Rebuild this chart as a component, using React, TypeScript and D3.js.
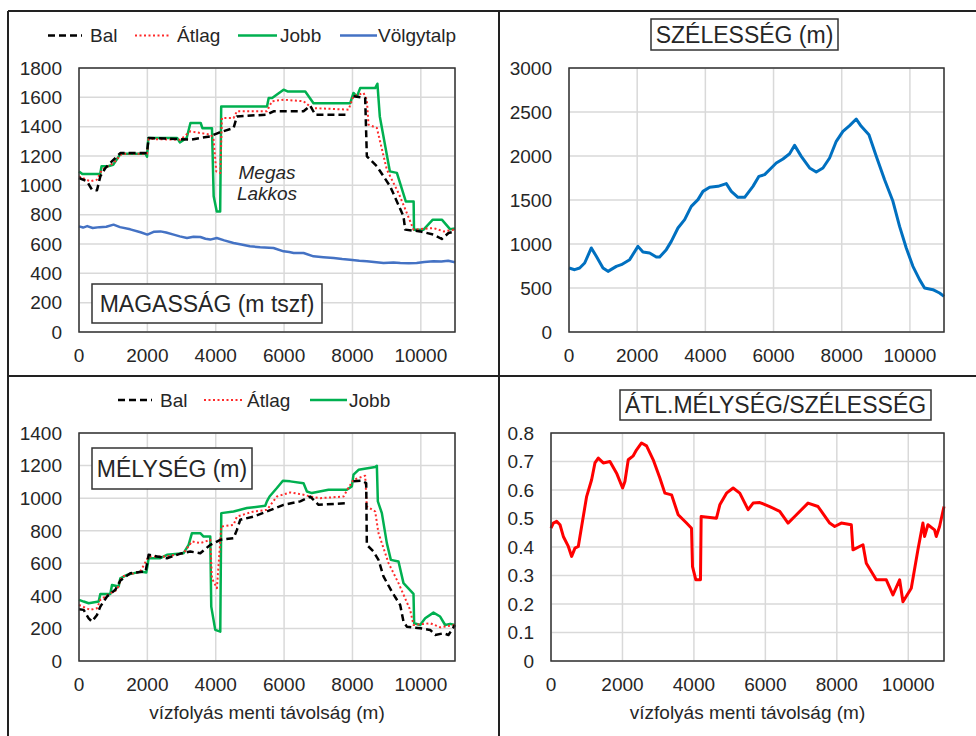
import React from "react";
import * as d3 from "d3";

type Pt = [number, number];

// ---------- DATA ----------
const xTicks = [0, 2000, 4000, 6000, 8000, 10000];

const elevBal: Pt[] = [
  [0, 1050], [234, 1027], [380, 970], [526, 966], [624, 1061], [770, 1118], [1014, 1175], [1209, 1220],
  [1988, 1220], [2037, 1323], [2500, 1320], [3255, 1311], [3840, 1334], [4100, 1360], [4522, 1391], [4620, 1470],
  [5497, 1482], [5692, 1505], [6569, 1505], [6764, 1543], [6910, 1482], [7836, 1482], [NaN, NaN], [8031, 1607],
  [8372, 1595], [8421, 1198], [8714, 1130], [9103, 993], [9493, 789], [9542, 698], [9981, 686], [10370, 664],
  [10614, 634], [10809, 675], [11000, 686],
];
const elevAtlag: Pt[] = [
  [0, 1061], [331, 1027], [526, 1039], [673, 1107], [1014, 1152], [1257, 1216], [1988, 1216], [2037, 1316],
  [2963, 1311], [3255, 1368], [3548, 1357], [3860, 1345], [3938, 1311], [4016, 1095], [4133, 1084], [4181, 1459],
  [4522, 1459], [4620, 1505], [5497, 1505], [5643, 1573], [5984, 1584], [6569, 1573], [6813, 1527], [7885, 1516],
  [8031, 1607], [8324, 1630], [8421, 1584], [8470, 1414], [8714, 1391], [9006, 1107], [9347, 948], [9591, 811],
  [9786, 698], [10370, 709], [10663, 686], [11000, 698],
];
const elevJobb: Pt[] = [
  [0, 1095], [100, 1077], [620, 1077], [660, 1130], [850, 1130], [1000, 1140], [1220, 1216], [1950, 1216],
  [1990, 1195], [2030, 1323], [2870, 1323], [2950, 1293], [3150, 1323], [3260, 1425], [3560, 1425], [3610, 1390],
  [3890, 1390], [3940, 925], [4030, 822], [4130, 822], [4160, 1538], [5500, 1538], [5550, 1595], [5650, 1595],
  [5985, 1652], [6100, 1640], [6620, 1640], [6860, 1560], [7935, 1560], [8030, 1630], [8130, 1605], [8225, 1663],
  [8665, 1663], [8730, 1693], [8800, 1470], [9095, 1095], [9300, 1085], [9560, 890], [9790, 890], [9800, 698],
  [10080, 698], [10350, 766], [10615, 766], [10860, 700], [11000, 705],
];
const elevVolgy: Pt[] = [
  [0, 720], [120, 712], [240, 722], [400, 709], [600, 715], [800, 718], [1010, 732], [1200, 715], [1500, 700],
  [1800, 680], [2000, 664], [2200, 684], [2380, 686], [2550, 678], [2770, 664], [2950, 652], [3160, 641],
  [3350, 650], [3550, 648], [3700, 636], [3840, 630], [4030, 641], [4250, 625], [4520, 607], [4750, 596],
  [5000, 584], [5300, 578], [5690, 573], [5985, 550], [6150, 545], [6280, 539], [6570, 539], [6860, 516],
  [7150, 510], [7450, 505], [7700, 498], [7930, 493], [8200, 486], [8420, 482], [8700, 475], [8910, 470],
  [9200, 474], [9400, 470], [9650, 468], [9880, 470], [10100, 478], [10370, 482], [10600, 480], [10800, 486],
  [11000, 476],
];

const widthData: Pt[] = [
  [0, 727], [166, 708], [313, 727], [460, 784], [655, 955], [801, 860], [997, 727], [1144, 689], [1388, 746],
  [1535, 765], [1779, 822], [2023, 973], [2170, 909], [2365, 898], [2561, 852], [2659, 852], [2854, 936],
  [3001, 1030], [3196, 1182], [3392, 1277], [3587, 1428], [3783, 1504], [3930, 1598], [4125, 1644], [4370, 1655],
  [4614, 1686], [4761, 1598], [4956, 1530], [5152, 1530], [5396, 1655], [5572, 1769], [5738, 1788], [5934, 1864],
  [6080, 1920], [6276, 1966], [6471, 2026], [6618, 2121], [6813, 1996], [7058, 1864], [7253, 1818], [7449, 1864],
  [7644, 1977], [7840, 2167], [8035, 2280], [8231, 2345], [8426, 2420], [8573, 2337], [8798, 2242], [9013, 1996],
  [9257, 1731], [9502, 1485], [9697, 1200], [9893, 955], [10088, 746], [10283, 595], [10430, 500], [10675, 481],
  [10870, 443], [11000, 405],
];

const depthBal: Pt[] = [
  [0, 318], [136, 314], [283, 262], [380, 242], [526, 283], [624, 334], [819, 396], [1062, 437], [1209, 494],
  [1501, 539], [1949, 549], [2037, 652], [2281, 642], [2573, 631], [3012, 662], [3255, 672], [3548, 662],
  [3840, 713], [4133, 744], [4522, 754], [4620, 805], [4717, 867], [5107, 887], [5497, 918], [5984, 959],
  [6471, 980], [6764, 1010], [7008, 959], [7787, 969], [NaN, NaN], [8031, 1103], [8275, 1107], [8402, 1092],
  [8421, 713], [8616, 672], [8762, 621], [8908, 519], [9152, 426], [9396, 344], [9493, 242], [9591, 211],
  [9981, 201], [10273, 191], [10419, 160], [10663, 170], [10809, 160], [11000, 221],
];
const depthAtlag: Pt[] = [
  [0, 344], [331, 314], [526, 324], [624, 375], [916, 416], [1111, 437], [1257, 519], [1793, 549], [2037, 642],
  [2573, 642], [3060, 662], [3304, 734], [3548, 724], [3840, 744], [3889, 508], [4035, 447], [4162, 826],
  [4522, 836], [4620, 887], [5107, 918], [5497, 928], [5789, 1010], [6179, 1035], [6569, 1021], [6764, 1010],
  [7058, 1000], [7741, 1010], [7836, 1047], [8031, 1113], [8372, 1138], [8421, 949], [8665, 918], [8762, 785],
  [9055, 601], [9347, 478], [9688, 314], [9786, 221], [10273, 232], [10565, 207], [11000, 221],
];
const depthJobb: Pt[] = [
  [0, 375], [136, 365], [283, 355], [575, 365], [624, 412], [916, 412], [965, 467], [1160, 457], [1209, 508],
  [1404, 529], [1793, 549], [1969, 543], [2037, 631], [2378, 631], [2573, 652], [3060, 662], [3207, 713],
  [3304, 785], [3548, 785], [3645, 764], [3840, 764], [3869, 334], [3986, 191], [4133, 180], [4162, 908],
  [4522, 918], [4912, 939], [5448, 953], [5497, 980], [5575, 1010], [5789, 1062], [5965, 1107], [6179, 1103],
  [6569, 1092], [6667, 1041], [6813, 1031], [7300, 1052], [7836, 1052], [7982, 1072], [8031, 1144], [8177, 1174],
  [8665, 1191], [8714, 1199], [8743, 980], [8860, 908], [9006, 724], [9123, 621], [9347, 611], [9493, 478],
  [9786, 412], [9805, 232], [9981, 221], [10127, 262], [10370, 297], [10565, 273], [10711, 221], [10858, 228],
  [11000, 221],
];

const ratioData: Pt[] = [
  [0, 0.466], [65, 0.484], [158, 0.49], [252, 0.478], [345, 0.437], [485, 0.402], [578, 0.367], [671, 0.396],
  [764, 0.402], [857, 0.472], [997, 0.577], [1137, 0.636], [1230, 0.695], [1323, 0.712], [1463, 0.695],
  [1650, 0.7], [1836, 0.659], [2004, 0.607], [2069, 0.63], [2162, 0.706], [2302, 0.72], [2395, 0.741],
  [2535, 0.765], [2675, 0.755], [2861, 0.706], [3047, 0.642], [3187, 0.589], [3374, 0.583], [3560, 0.513],
  [3793, 0.484], [3933, 0.466], [3961, 0.331], [4054, 0.285], [4184, 0.285], [4203, 0.507], [4632, 0.501],
  [4725, 0.548], [4912, 0.589], [5098, 0.607], [5284, 0.589], [5517, 0.531], [5657, 0.554], [5843, 0.556],
  [6122, 0.542], [6402, 0.525], [6635, 0.484], [6821, 0.507], [7194, 0.554], [7474, 0.542], [7800, 0.484],
  [7940, 0.472], [8126, 0.484], [8406, 0.478], [8452, 0.39], [8732, 0.408], [8825, 0.343], [9105, 0.285],
  [9385, 0.285], [9571, 0.232], [9758, 0.285], [9851, 0.208], [10084, 0.255], [10270, 0.39], [10410, 0.484],
  [10457, 0.437], [10550, 0.478], [10736, 0.46], [10783, 0.437], [10876, 0.472], [11000, 0.542],
];

const elevTicks = [0, 200, 400, 600, 800, 1000, 1200, 1400, 1600, 1800];
const widthTicks = [0, 500, 1000, 1500, 2000, 2500, 3000];
const depthTicks = [0, 200, 400, 600, 800, 1000, 1200, 1400];
const ratioTicks = [0, 0.1, 0.2, 0.3, 0.4, 0.5, 0.6, 0.7, 0.8];

const FONT = "'Liberation Sans', Arial, sans-serif";
const TXT = "#262626";

type Series = { data: Pt[]; color: string; width: number; dash?: string };

function Panel(props: {
  left: number; right: number; top: number; bottom: number;
  yMax: number; yTicks: number[]; series: Series[]; xTitle?: boolean; fmt?: (v: number) => string;
}) {
  const { left, right, top, bottom, yMax, yTicks, series, xTitle, fmt } = props;
  const x = d3.scaleLinear().domain([0, 11000]).range([left, right]);
  const y = d3.scaleLinear().domain([0, yMax]).range([bottom, top]);
  const line = d3.line<Pt>().defined((d) => !isNaN(d[0])).x((d) => x(d[0])).y((d) => y(d[1]));
  const f = fmt || ((v: number) => String(v));
  return (
    <g>
      {xTicks.concat([11000]).map((t) => (
        <line key={"gx" + t} x1={x(t)} x2={x(t)} y1={top} y2={bottom} stroke="#d9d9d9" strokeWidth={1.5} />
      ))}
      {yTicks.map((t) => (
        <line key={"gy" + t} x1={left} x2={right} y1={y(t)} y2={y(t)} stroke="#d9d9d9" strokeWidth={1.5} />
      ))}
      {series.map((s, i) => (
        <path key={i} d={line(s.data) || ""} fill="none" stroke={s.color} strokeWidth={s.width}
          strokeDasharray={s.dash} strokeLinejoin="round" />
      ))}
      <rect x={left} y={top} width={right - left} height={bottom - top} fill="none" stroke="#333" strokeWidth={1.5} />
      {yTicks.map((t) => (
        <text key={"ty" + t} x={left - 17} y={y(t) + 6.8} textAnchor="end" fontSize={19} fontFamily={FONT} fill={TXT}>
          {f(t)}
        </text>
      ))}
      {xTicks.map((t) => (
        <text key={"tx" + t} x={x(t)} y={bottom + 30} textAnchor="middle" fontSize={19} fontFamily={FONT} fill={TXT}>
          {t}
        </text>
      ))}
      {xTitle && (
        <text x={(left + right) / 2} y={bottom + 57.5} textAnchor="middle" fontSize={19} fontFamily={FONT} fill={TXT}>
          vízfolyás menti távolság (m)
        </text>
      )}
    </g>
  );
}

function LegendItem(p: { x1: number; x2: number; tx: number; y: number; s: Series; label: string }) {
  return (
    <g>
      <line x1={p.x1} x2={p.x2} y1={p.y} y2={p.y} stroke={p.s.color} strokeWidth={p.s.width} strokeDasharray={p.s.dash} />
      <text x={p.tx} y={p.y + 6.8} fontSize={19} fontFamily={FONT} fill={TXT}>{p.label}</text>
    </g>
  );
}

function TitleBox(p: { x: number; y: number; w: number; h: number; label: string }) {
  return (
    <g>
      <rect x={p.x} y={p.y} width={p.w} height={p.h} fill="#fff" stroke="#333" strokeWidth={1.5} />
      <text x={p.x + p.w / 2} y={p.y + p.h / 2 + 8.2} textAnchor="middle" fontSize={23} fontFamily={FONT} fill={TXT}>
        {p.label}
      </text>
    </g>
  );
}

export default function App() {
  const bal: Omit<Series, "data"> = { color: "#000", width: 2.5, dash: "7,4" };
  const atl: Omit<Series, "data"> = { color: "#ff2a2a", width: 2, dash: "2,2.5" };
  const jobb: Omit<Series, "data"> = { color: "#00b050", width: 2.5 };
  const volgy: Omit<Series, "data"> = { color: "#4472c4", width: 2.5 };
  return (
    <svg width={976} height={736} style={{ position: "absolute", left: 0, top: 0, background: "#fff" }}>
      <rect x={0} y={0} width={976} height={736} fill="#fff" />
      {/* Top-left: elevation */}
      <Panel left={79} right={455} top={68} bottom={332} yMax={1800} yTicks={elevTicks}
        series={[
          { ...volgy, data: elevVolgy },
          { ...jobb, data: elevJobb },
          { ...atl, data: elevAtlag },
          { ...bal, data: elevBal },
        ]} />
      <TitleBox x={92} y={284} w={230} h={39} label="MAGASSÁG (m tszf)" />
      <text x={267} y={178.5} textAnchor="middle" fontSize={19} fontStyle="italic" fontFamily={FONT} fill={TXT}>Megas</text>
      <text x={267} y={200} textAnchor="middle" fontSize={19} fontStyle="italic" fontFamily={FONT} fill={TXT}>Lakkos</text>
      <LegendItem x1={48} x2={82} tx={90} y={35.5} s={{ ...bal, data: [] }} label="Bal" />
      <LegendItem x1={135} x2={169} tx={177} y={35.5} s={{ ...atl, data: [] }} label="Átlag" />
      <LegendItem x1={238} x2={277} tx={280} y={35.5} s={{ ...jobb, data: [] }} label="Jobb" />
      <LegendItem x1={340} x2={377} tx={378} y={35.5} s={{ ...volgy, data: [] }} label="Völgytalp" />

      {/* Top-right: width */}
      <Panel left={569} right={944} top={68} bottom={332} yMax={3000} yTicks={widthTicks}
        series={[{ data: widthData, color: "#0070c0", width: 3 }]} />
      <TitleBox x={651} y={19} w={187} h={31} label="SZÉLESSÉG (m)" />

      {/* Bottom-left: depth */}
      <Panel left={79} right={455} top={433} bottom={661} yMax={1400} yTicks={depthTicks} xTitle
        series={[
          { ...jobb, data: depthJobb },
          { ...atl, data: depthAtlag },
          { ...bal, data: depthBal },
        ]} />
      <TitleBox x={92} y={448} w={160} h={41} label="MÉLYSÉG (m)" />
      <LegendItem x1={118} x2={152} tx={160} y={400} s={{ ...bal, data: [] }} label="Bal" />
      <LegendItem x1={204} x2={243} tx={247} y={400} s={{ ...atl, data: [] }} label="Átlag" />
      <LegendItem x1={310} x2={347} tx={349} y={400} s={{ ...jobb, data: [] }} label="Jobb" />

      {/* Bottom-right: ratio */}
      <Panel left={551} right={944} top={433} bottom={661} yMax={0.8} yTicks={ratioTicks} xTitle
        fmt={(v) => (v === 0 ? "0" : d3.format(".1f")(v))}
        series={[{ data: ratioData, color: "#ff0000", width: 3 }]} />
      <TitleBox x={620} y={390} w={311} h={30} label="ÁTL.MÉLYSÉG/SZÉLESSÉG" />

      {/* Frame */}
      <line x1={8} x2={976} y1={11} y2={11} stroke="#222" strokeWidth={2} />
      <line x1={8} x2={8} y1={11} y2={736} stroke="#222" strokeWidth={2} />
      <line x1={499} x2={499} y1={11} y2={736} stroke="#222" strokeWidth={2} />
      <line x1={8} x2={976} y1={376} y2={376} stroke="#222" strokeWidth={2} />
    </svg>
  );
}
